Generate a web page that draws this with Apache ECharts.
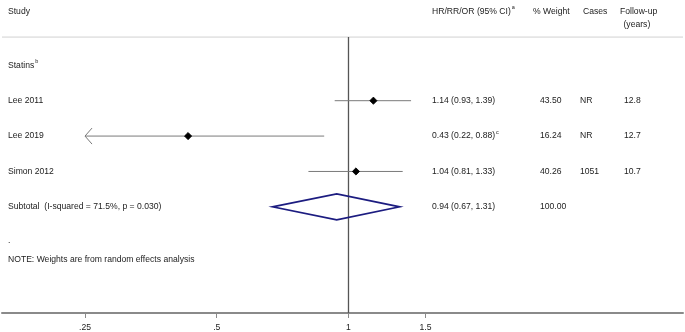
<!DOCTYPE html>
<html><head><meta charset="utf-8">
<script src="https://cdn.jsdelivr.net/npm/echarts@6/dist/echarts.min.js"></script>
<style>html,body{margin:0;padding:0;background:#fff}#c{width:685px;height:332px}</style>
</head><body><div id="c"></div>
<script>
// ---- data ----
const studies = ['Lee 2011', 'Lee 2019', 'Simon 2012'];
const estimate = [1.14, 0.43, 1.04];
const lower = [0.93, 0.22, 0.81];
const upper = [1.39, 0.88, 1.33];
const ciText = ['1.14 (0.93, 1.39)', '0.43 (0.22, 0.88)', '1.04 (0.81, 1.33)'];
const ciNote = ['', 'c', ''];
const weights = ['43.50', '16.24', '40.26'];
const cases = ['NR', 'NR', '1051'];
const followUp = ['12.8', '12.7', '10.7'];
const pooledEst = 0.94, pooledLo = 0.67, pooledHi = 1.31;
const pooledText = '0.94 (0.67, 1.31)';
const pooledWeight = '100.00';
const subtotalLabel = 'Subtotal  (I-squared = 71.5%, p = 0.030)';
const groupLabel = 'Statins';
const noteLabel = 'NOTE: Weights are from random effects analysis';
const tickValues = [0.25, 0.5, 1, 1.5];
const tickLabels = ['.25', '.5', '1', '1.5'];
const clipMin = 0.25;

// ---- chart ----
const FONT = 'Liberation Sans, Arial, sans-serif';
const FS = 8.6;
const ln = Math.log;
const xMin = -1.823, xMax = 1.760;
const chart = echarts.init(document.getElementById('c'), null, {renderer: 'canvas'});

// Table column pixel x positions
const colStudy = 8, colCI = 432, colW = 540, colCases = 580, colFU = 624;

const tableRows = [];
tableRows.push({row: -0.52, items: [
  {x: colStudy, t: 'Study'}, {x: colCI, t: 'HR/RR/OR (95% CI)', sup: 'a'},
  {x: 533, t: '% Weight'}, {x: 583, t: 'Cases'}, {x: 620, t: 'Follow-up'}]});
tableRows.push({row: -0.14, items: [{x: 623.5, t: '(years)'}]});
tableRows.push({row: 1, items: [{x: colStudy, t: groupLabel, sup: 'b'}]});
studies.forEach((s, i) => tableRows.push({row: 2 + i, items: [
  {x: colStudy, t: s}, {x: colCI, t: ciText[i], sup: ciNote[i]},
  {x: colW, t: weights[i]}, {x: colCases, t: cases[i]}, {x: colFU, t: followUp[i]}]}));
tableRows.push({row: 5, items: [{x: colStudy, t: subtotalLabel}, {x: colCI, t: pooledText}, {x: colW, t: pooledWeight}]});
tableRows.push({row: 5.95, items: [{x: colStudy, t: '.'}]});
tableRows.push({row: 6.5, items: [{x: colStudy, t: noteLabel}]});

const option = {
  animation: false,
  backgroundColor: '#fff',
  grid: {left: 2, right: 2, top: 37, bottom: 19},
  xAxis: {
    type: 'value', min: xMin, max: xMax,
    axisLine: {show: true, lineStyle: {color: '#8a8a8a', width: 2}},
    axisTick: {show: true, length: 5, lineStyle: {color: '#8a8a8a', width: 1},
      customValues: tickValues.map(v => ln(v))},
    axisLabel: {show: true, color: '#222', fontFamily: FONT, fontSize: FS, margin: 10,
      customValues: tickValues.map(v => ln(v)),
      formatter: v => { const i = tickValues.findIndex(t => Math.abs(ln(t) - v) < 1e-6); return i >= 0 ? tickLabels[i] : ''; }},
    splitLine: {show: false}
  },
  yAxis: {type: 'value', inverse: true, min: 0.2, max: 8, show: false, splitLine: {show: false}},
  series: [
    { // header separator
      type: 'line', data: [[xMin, 0.2], [xMax, 0.2]], symbol: 'none',
      lineStyle: {color: '#dcdcdc', width: 1.5}, silent: true, z: 1
    },
    { // null line
      type: 'line', data: [[0, 0.2], [0, 8]], symbol: 'none',
      lineStyle: {color: '#555', width: 1.3}, silent: true, z: 2
    },
    { // study CIs and estimates
      type: 'custom', z: 5, clip: false,
      data: studies.map((s, i) => [estimate[i], lower[i], upper[i], 2 + i]),
      renderItem: (params, api) => {
        const est = api.value(0), lo = api.value(1), hi = api.value(2), row = api.value(3);
        const loC = Math.max(lo, clipMin);
        const p1 = api.coord([ln(loC), row]);
        const p2 = api.coord([ln(hi), row]);
        const pe = api.coord([ln(est), row]);
        const children = [{type: 'line', shape: {x1: p1[0], y1: p1[1], x2: p2[0], y2: p2[1]},
          style: {stroke: '#7a7a7a', lineWidth: 1}}];
        if (lo < clipMin) {
          children.push({type: 'polyline', shape: {points: [[p1[0] + 7, p1[1] - 8], [p1[0], p1[1]], [p1[0] + 7, p1[1] + 8]]},
            style: {stroke: '#7a7a7a', lineWidth: 1, fill: null}});
        }
        const r = 3.6;
        children.push({type: 'polygon', shape: {points: [[pe[0] - r, pe[1]], [pe[0], pe[1] - r], [pe[0] + r, pe[1]], [pe[0], pe[1] + r]]},
          style: {fill: '#000', stroke: '#000', lineWidth: 0.8}});
        return {type: 'group', children};
      }
    },
    { // pooled diamond
      type: 'custom', z: 6, clip: false,
      data: [[pooledEst, pooledLo, pooledHi, 5]],
      renderItem: (params, api) => {
        const row = api.value(3);
        const a = api.coord([ln(api.value(1)), row]);
        const b = api.coord([ln(api.value(2)), row]);
        const c = api.coord([ln(api.value(0)), row]);
        const h = 13;
        return {type: 'polygon', shape: {points: [[a[0], a[1]], [c[0], c[1] - h], [b[0], b[1]], [c[0], c[1] + h]]},
          style: {fill: null, stroke: '#1c1c80', lineWidth: 1.6}};
      }
    },
    { // table text
      type: 'custom', z: 10, clip: false, silent: true,
      data: tableRows.map((r, i) => [i, r.row]),
      renderItem: (params, api) => {
        const r = tableRows[api.value(0)];
        const y = api.coord([0, api.value(1)])[1];
        return {type: 'group', children: r.items.map(it => ({
          type: 'text', x: it.x, y: y,
          style: {
            text: it.sup ? '{m|' + it.t + '}{s|' + it.sup + '}' : it.t,
            fill: '#222', font: FS + 'px ' + FONT, verticalAlign: 'middle', align: 'left',
            rich: {m: {fontSize: FS, fontFamily: FONT, fill: '#222', verticalAlign: 'middle'},
                   s: {fontSize: 5.5, fontFamily: FONT, fill: '#222', verticalAlign: 'top', padding: [0, 0, 8, 1]}}
          }
        }))};
      }
    }
  ]
};
chart.setOption(option);
</script></body></html>
